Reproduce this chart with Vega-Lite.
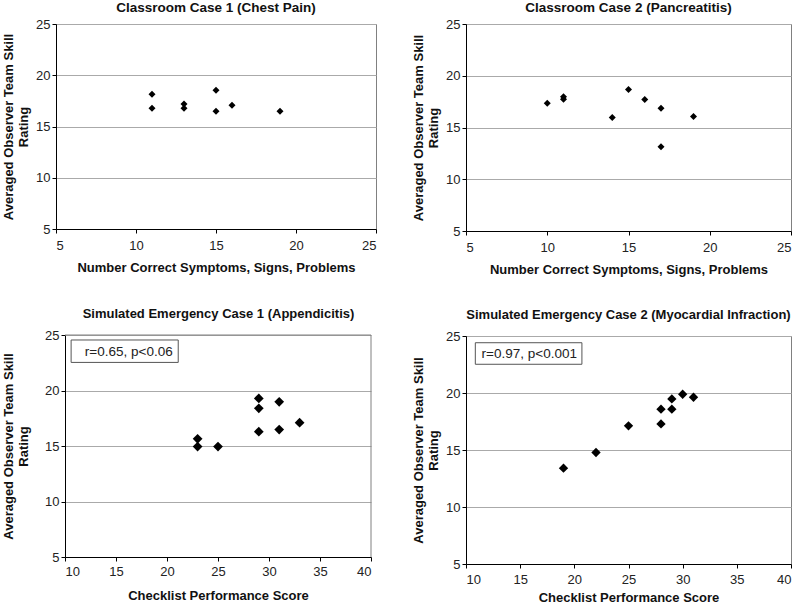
{
  "$schema": "https://vega.github.io/schema/vega-lite/v6.json",
  "background": "white",
  "padding": {"left": 2, "top": 0, "right": 0, "bottom": 0},
  "datasets": {
    "c1": [
      {"x": 11, "y": 18.14}, {"x": 11, "y": 16.77}, {"x": 13, "y": 17.2}, {"x": 13, "y": 16.77},
      {"x": 15, "y": 18.53}, {"x": 15, "y": 16.48}, {"x": 16, "y": 17.07}, {"x": 19, "y": 16.48}
    ],
    "c2": [
      {"x": 10, "y": 17.35}, {"x": 11, "y": 17.97}, {"x": 11, "y": 17.74}, {"x": 14, "y": 15.97},
      {"x": 15, "y": 18.68}, {"x": 16, "y": 17.71}, {"x": 17, "y": 16.87}, {"x": 17, "y": 13.13},
      {"x": 19, "y": 16.06}
    ],
    "s1": [
      {"x": 23, "y": 15.65}, {"x": 23, "y": 14.95}, {"x": 25, "y": 14.95}, {"x": 29, "y": 19.29},
      {"x": 29, "y": 18.4}, {"x": 29, "y": 16.29}, {"x": 31, "y": 18.98}, {"x": 31, "y": 16.48},
      {"x": 33, "y": 17.1}
    ],
    "s2": [
      {"x": 19, "y": 13.41}, {"x": 22, "y": 14.78}, {"x": 25, "y": 17.12}, {"x": 28, "y": 18.58},
      {"x": 28, "y": 17.29}, {"x": 29, "y": 19.48}, {"x": 29, "y": 18.58}, {"x": 30, "y": 19.89},
      {"x": 31, "y": 19.63}
    ],
    "a1": [{"label": "r=0.65, p<0.06"}],
    "a2": [{"label": "r=0.97, p<0.001"}]
  },
  "concat": [
    {
      "title": {"text": "Classroom Case 1 (Chest Pain)", "offset": 4, "fontSize": 13.5},
      "width": 320, "height": 205,
      "data": {"name": "c1"},
      "mark": {"type": "point", "shape": "diamond", "filled": true, "color": "#000", "opacity": 1, "size": 49},
      "encoding": {
        "x": {"field": "x", "type": "quantitative", "title": "Number Correct Symptoms, Signs, Problems",
              "scale": {"domain": [5, 25], "nice": false, "zero": false},
              "axis": {"values": [5, 10, 15, 20, 25], "grid": false, "labelPadding": 6, "titlePadding": 9}},
        "y": {"field": "y", "type": "quantitative", "title": ["Averaged Observer Team Skill", "Rating"],
              "scale": {"domain": [5, 25], "nice": false, "zero": false},
              "axis": {"values": [5, 10, 15, 20, 25], "grid": true, "titlePadding": 5}}
      }
    },
    {
      "title": {"text": "Classroom Case 2 (Pancreatitis)", "offset": 4, "fontSize": 13.5},
      "width": 325, "height": 207,
      "data": {"name": "c2"},
      "mark": {"type": "point", "shape": "diamond", "filled": true, "color": "#000", "opacity": 1, "size": 49},
      "encoding": {
        "x": {"field": "x", "type": "quantitative", "title": "Number Correct Symptoms, Signs, Problems",
              "scale": {"domain": [5, 25], "nice": false, "zero": false},
              "axis": {"values": [5, 10, 15, 20, 25], "grid": false, "labelPadding": 6, "titlePadding": 9}},
        "y": {"field": "y", "type": "quantitative", "title": ["Averaged Observer Team Skill", "Rating"],
              "scale": {"domain": [5, 25], "nice": false, "zero": false},
              "axis": {"values": [5, 10, 15, 20, 25], "grid": true, "titlePadding": 5}}
      }
    },
    {
      "title": {"text": "Simulated Emergency Case 1 (Appendicitis)", "offset": 8, "fontSize": 13, "anchor": "middle", "dx": 5},
      "width": 315, "height": 222,
      "view": {"stroke": null},
      "layer": [
        {
          "data": {"name": "a1"},
          "mark": {"type": "rect", "fill": "white", "stroke": "#555", "strokeWidth": 1},
          "encoding": {
            "x": {"datum": 10.6, "type": "quantitative", "scale": {"domain": [10, 40], "range": [9, 315], "nice": false, "zero": false}},
            "x2": {"datum": 21.1},
            "y": {"datum": 24.55, "type": "quantitative", "scale": {"domain": [5, 25], "nice": false, "zero": false}},
            "y2": {"datum": 22.53}
          }
        },
        {
          "data": {"name": "a1"},
          "mark": {"type": "text", "fontSize": 13.5, "font": "Liberation Sans", "color": "#222"},
          "encoding": {
            "x": {"datum": 16.25, "type": "quantitative"},
            "y": {"datum": 23.5, "type": "quantitative"},
            "text": {"field": "label"}
          }
        },
        {
          "data": {"name": "a1"},
          "mark": {"type": "rule", "color": "#808080", "strokeWidth": 1},
          "encoding": {
            "x": {"datum": 40, "type": "quantitative"},
            "y": {"datum": 5, "type": "quantitative"},
            "y2": {"datum": 25}
          }
        },
        {
          "data": {"name": "a1"},
          "mark": {"type": "rule", "color": "#808080", "strokeWidth": 1},
          "encoding": {
            "x": {"datum": 10, "type": "quantitative"},
            "x2": {"datum": 40},
            "y": {"datum": 25, "type": "quantitative"}
          }
        },
        {
          "data": {"name": "s1"},
          "mark": {"type": "point", "shape": "diamond", "filled": true, "color": "#000", "opacity": 1, "size": 95},
          "encoding": {
            "x": {"field": "x", "type": "quantitative", "title": "Checklist Performance Score",
                  "scale": {"domain": [10, 40], "range": [9, 315], "nice": false, "zero": false},
                  "axis": {"values": [10, 15, 20, 25, 30, 35, 40], "grid": false, "labelPadding": 4, "titlePadding": 11}},
            "y": {"field": "y", "type": "quantitative", "title": ["Averaged Observer Team Skill", "Rating"],
                  "scale": {"domain": [5, 25], "nice": false, "zero": false},
                  "axis": {"values": [5, 10, 15, 20, 25], "grid": true, "titlePadding": 14, "offset": -9}}
          }
        }
      ]
    },
    {
      "title": {"text": "Simulated Emergency Case 2 (Myocardial Infraction)", "offset": 8, "fontSize": 13},
      "width": 325, "height": 228,
      "layer": [
        {
          "data": {"name": "a2"},
          "mark": {"type": "rect", "fill": "white", "stroke": "#555", "strokeWidth": 1},
          "encoding": {
            "x": {"datum": 10.86, "type": "quantitative", "scale": {"domain": [10, 40], "nice": false, "zero": false}},
            "x2": {"datum": 20.7},
            "y": {"datum": 24.41, "type": "quantitative", "scale": {"domain": [5, 25], "nice": false, "zero": false}},
            "y2": {"datum": 22.52}
          }
        },
        {
          "data": {"name": "a2"},
          "mark": {"type": "text", "fontSize": 13.5, "font": "Liberation Sans", "color": "#222"},
          "encoding": {
            "x": {"datum": 15.84, "type": "quantitative"},
            "y": {"datum": 23.39, "type": "quantitative"},
            "text": {"field": "label"}
          }
        },
        {
          "data": {"name": "s2"},
          "mark": {"type": "point", "shape": "diamond", "filled": true, "color": "#000", "opacity": 1, "size": 87},
          "encoding": {
            "x": {"field": "x", "type": "quantitative", "title": "Checklist Performance Score",
                  "scale": {"domain": [10, 40], "nice": false, "zero": false},
                  "axis": {"values": [10, 15, 20, 25, 30, 35, 40], "grid": false, "labelPadding": 5, "titlePadding": 5}},
            "y": {"field": "y", "type": "quantitative", "title": ["Averaged Observer Team Skill", "Rating"],
                  "scale": {"domain": [5, 25], "nice": false, "zero": false},
                  "axis": {"values": [5, 10, 15, 20, 25], "grid": true, "titlePadding": 5}}
          }
        }
      ]
    }
  ],
  "columns": 2,
  "align": "none",
  "spacing": {"row": 31, "column": 35},
  "config": {
    "font": "Liberation Sans",
    "view": {"stroke": "#808080", "strokeWidth": 1},
    "axis": {
      "labelFont": "Liberation Sans", "labelFontSize": 13, "labelColor": "#222",
      "titleFont": "Liberation Sans", "titleFontSize": 13, "titleFontWeight": "bold", "titleColor": "#111",
      "domainColor": "#000", "tickColor": "#000", "tickSize": 4, "gridColor": "#aaa", "gridWidth": 1
    },
    "title": {"font": "Liberation Sans", "fontWeight": "bold", "color": "#111"}
  }
}
